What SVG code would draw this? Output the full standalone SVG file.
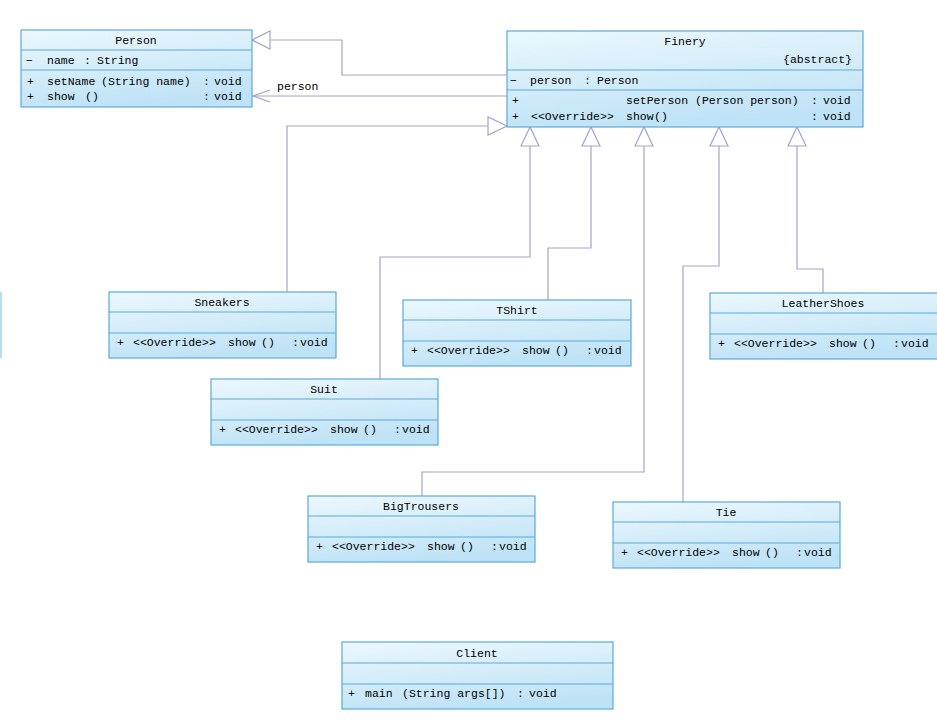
<svg xmlns="http://www.w3.org/2000/svg" width="937" height="726" viewBox="0 0 937 726" font-family="'Liberation Mono', 'Courier New', monospace">
<defs>
<linearGradient id="gb" x1="0" y1="0" x2="0.3" y2="1">
<stop offset="0" stop-color="#ecf8fe"/>
<stop offset="1" stop-color="#bfe3f6"/>
</linearGradient>
<style>
.box{fill:url(#gb);stroke:#5aaadb;stroke-width:1.2}
.sep{stroke:#5aaadb;stroke-width:1}
text{font-family:'Liberation Mono','Courier New',monospace;font-size:11.5px;fill:#000}
.c{text-anchor:middle}
.e{text-anchor:end}
.ln{fill:none;stroke:#a3a3d2;stroke-width:1.2}
.tri{fill:#ffffff;stroke:#a3a3d2;stroke-width:1.2}
</style>
</defs>
<rect width="937" height="726" fill="#ffffff"/>
<line x1="1" y1="292" x2="1" y2="358" stroke="#9fd2ee" stroke-width="1.5"/>

<g id="connectors">
<polyline class="ln" points="507,75 342,75 342,40 270,40"/>
<polygon class="tri" points="252,40 270,31 270,49"/>
<line class="ln" x1="507" y1="96" x2="253" y2="96"/>
<polyline class="ln" points="270,90 253,96 270,102"/>
<text x="277" y="90">person</text>
<polyline class="ln" points="287,292 287,126 488,126"/>
<polygon class="tri" points="507,126 488,117 488,135"/>
<polyline class="ln" points="380,379 380,257 530,257 530,146"/>
<polygon class="tri" points="530,127 521,146 539,146"/>
<polyline class="ln" points="548,300 548,248 591,248 591,146"/>
<polygon class="tri" points="591,127 582,146 600,146"/>
<polyline class="ln" points="422,496 422,472 644,472 644,146"/>
<polygon class="tri" points="644,127 635,146 653,146"/>
<polyline class="ln" points="683,502 683,266 719,266 719,146"/>
<polygon class="tri" points="719,127 710,146 728,146"/>
<polyline class="ln" points="823,293 823,269 797,269 797,146"/>
<polygon class="tri" points="797,127 788,146 806,146"/>
</g>

<g id="Person">
<rect class="box" x="21" y="30" width="231" height="77"/>
<line class="sep" x1="21" y1="50" x2="252" y2="50"/>
<line class="sep" x1="21" y1="70" x2="252" y2="70"/>
<text class="c" x="136" y="44">Person</text>
<text x="26" y="64">−</text><text x="47" y="64">name</text><text x="84" y="64">:</text><text x="97" y="64">String</text>
<text x="27" y="85">+</text><text x="47" y="85">setName</text><text x="101" y="85">(String name)</text><text x="203" y="85">:</text><text x="214" y="85">void</text>
<text x="27" y="100">+</text><text x="47" y="100">show</text><text x="85" y="100">()</text><text x="203" y="100">:</text><text x="214" y="100">void</text>
</g>

<g id="Finery">
<rect class="box" x="507" y="31" width="356" height="96"/>
<line class="sep" x1="507" y1="70" x2="863" y2="70"/>
<line class="sep" x1="507" y1="90" x2="863" y2="90"/>
<text class="c" x="685" y="45">Finery</text>
<text class="e" x="852" y="63">{abstract}</text>
<text x="510" y="84">−</text><text x="530" y="84">person</text><text x="584" y="84">:</text><text x="597" y="84">Person</text>
<text x="512" y="104">+</text><text x="626" y="104">setPerson (Person person)</text><text x="811" y="104">:</text><text x="823" y="104">void</text>
<text x="512" y="120">+</text><text x="531" y="120">&lt;&lt;Override&gt;&gt;</text><text x="626" y="120">show</text><text x="654" y="120">()</text><text x="811" y="120">:</text><text x="823" y="120">void</text>
</g>

<g id="Sneakers" transform="translate(109,292)">
<rect class="box" x="0" y="0" width="227" height="66"/>
<line class="sep" x1="0" y1="20" x2="227" y2="20"/>
<line class="sep" x1="0" y1="41" x2="227" y2="41"/>
<text class="c" x="113" y="14">Sneakers</text>
<text x="8" y="54">+</text><text x="24" y="54">&lt;&lt;Override&gt;&gt;</text><text x="119" y="54">show</text><text x="152" y="54">()</text><text x="183" y="54">:</text><text x="191" y="54">void</text>
</g>

<g id="TShirt" transform="translate(403,300)">
<rect class="box" x="0" y="0" width="228" height="66"/>
<line class="sep" x1="0" y1="20" x2="228" y2="20"/>
<line class="sep" x1="0" y1="41" x2="228" y2="41"/>
<text class="c" x="114" y="14">TShirt</text>
<text x="8" y="54">+</text><text x="24" y="54">&lt;&lt;Override&gt;&gt;</text><text x="119" y="54">show</text><text x="152" y="54">()</text><text x="183" y="54">:</text><text x="191" y="54">void</text>
</g>

<g id="LeatherShoes" transform="translate(710,293)">
<rect class="box" x="0" y="0" width="232" height="66"/>
<line class="sep" x1="0" y1="20" x2="232" y2="20"/>
<line class="sep" x1="0" y1="41" x2="232" y2="41"/>
<text class="c" x="113" y="14">LeatherShoes</text>
<text x="8" y="54">+</text><text x="24" y="54">&lt;&lt;Override&gt;&gt;</text><text x="119" y="54">show</text><text x="152" y="54">()</text><text x="183" y="54">:</text><text x="191" y="54">void</text>
</g>

<g id="Suit" transform="translate(211,379)">
<rect class="box" x="0" y="0" width="227" height="66"/>
<line class="sep" x1="0" y1="20" x2="227" y2="20"/>
<line class="sep" x1="0" y1="41" x2="227" y2="41"/>
<text class="c" x="113" y="14">Suit</text>
<text x="8" y="54">+</text><text x="24" y="54">&lt;&lt;Override&gt;&gt;</text><text x="119" y="54">show</text><text x="152" y="54">()</text><text x="183" y="54">:</text><text x="191" y="54">void</text>
</g>

<g id="BigTrousers" transform="translate(308,496)">
<rect class="box" x="0" y="0" width="227" height="66"/>
<line class="sep" x1="0" y1="20" x2="227" y2="20"/>
<line class="sep" x1="0" y1="41" x2="227" y2="41"/>
<text class="c" x="113" y="14">BigTrousers</text>
<text x="8" y="54">+</text><text x="24" y="54">&lt;&lt;Override&gt;&gt;</text><text x="119" y="54">show</text><text x="152" y="54">()</text><text x="183" y="54">:</text><text x="191" y="54">void</text>
</g>

<g id="Tie" transform="translate(613,502)">
<rect class="box" x="0" y="0" width="227" height="66"/>
<line class="sep" x1="0" y1="20" x2="227" y2="20"/>
<line class="sep" x1="0" y1="41" x2="227" y2="41"/>
<text class="c" x="113" y="14">Tie</text>
<text x="8" y="54">+</text><text x="24" y="54">&lt;&lt;Override&gt;&gt;</text><text x="119" y="54">show</text><text x="152" y="54">()</text><text x="183" y="54">:</text><text x="191" y="54">void</text>
</g>

<g id="Client" transform="translate(342,642)">
<rect class="box" x="0" y="0" width="271" height="67"/>
<line class="sep" x1="0" y1="21" x2="271" y2="21"/>
<line class="sep" x1="0" y1="42" x2="271" y2="42"/>
<text class="c" x="135" y="15">Client</text>
<text x="6" y="55">+</text><text x="23" y="55">main</text><text x="60" y="55">(String args[])</text><text x="175" y="55">:</text><text x="187" y="55">void</text>
</g>
</svg>
